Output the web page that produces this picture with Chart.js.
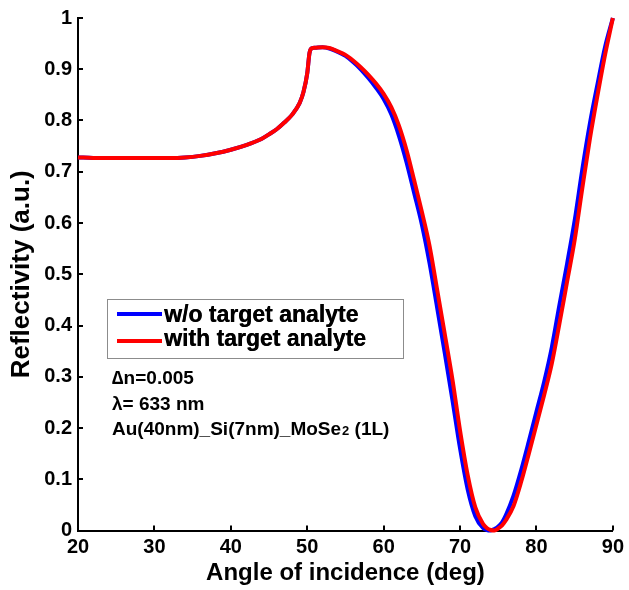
<!DOCTYPE html>
<html>
<head>
<meta charset="utf-8">
<script src="https://cdn.jsdelivr.net/npm/chart.js@4/dist/chart.umd.min.js"></script>
<style>
html,body{margin:0;padding:0;background:#fff;}
canvas{display:block;}
</style>
</head>
<body>
<canvas id="c" width="629" height="590"></canvas>
<script>
// ---- data ----
const angles = [20,22,24,26,28,30,32,34,36,38,40,42,44,45,46,47,48,49,49.5,50,50.3,50.6,51,52,53,54,55,56,57,58,59,60,61,62,63,64,65,66,67,68,69,70,71,72,73,73.5,74,74.5,75,75.5,76,77,78,79,80,81,82,83,84,85,86,87,88,89,90];
const reflWithout = [0.728,0.727,0.727,0.727,0.727,0.727,0.727,0.728,0.731,0.736,0.743,0.752,0.764,0.773,0.783,0.796,0.811,0.834,0.855,0.892,0.932,0.941,0.942,0.943,0.940,0.934,0.926,0.914,0.900,0.883,0.864,0.842,0.812,0.770,0.718,0.658,0.597,0.522,0.435,0.346,0.255,0.160,0.080,0.028,0.005,0.001,0.000,0.003,0.008,0.016,0.030,0.068,0.118,0.174,0.232,0.290,0.357,0.440,0.520,0.605,0.705,0.795,0.872,0.945,1.000];
const reflWith = [0.728,0.727,0.727,0.727,0.727,0.727,0.727,0.728,0.731,0.736,0.743,0.752,0.764,0.773,0.783,0.796,0.811,0.834,0.855,0.892,0.932,0.941,0.942,0.943,0.941,0.935,0.928,0.917,0.904,0.889,0.872,0.852,0.826,0.790,0.742,0.683,0.622,0.556,0.470,0.383,0.295,0.195,0.108,0.045,0.013,0.005,0.001,0.000,0.004,0.010,0.020,0.048,0.095,0.150,0.207,0.264,0.325,0.403,0.485,0.567,0.668,0.765,0.850,0.930,1.000];
const seriesLabels = ['w/o target analyte','with target analyte'];
const xTitle = 'Angle of incidence (deg)';
const yTitle = 'Reflectivity (a.u.)';
const noteLines = ['\u2206n=0.005','\u03bb= 633 nm'];
const noteFormula = ['Au(40nm)_Si(7nm)_MoSe','2',' (1L)'];

const FONT = '"Liberation Sans", Arial, sans-serif';

function pts(ys){ return angles.map((a,i)=>({x:a,y:ys[i]})); }

const inwardTicks = {
  id:'inwardTicks',
  afterDraw(chart){
    const ctx = chart.ctx, a = chart.chartArea;
    const xs = chart.scales.x, ys = chart.scales.y;
    ctx.save();
    ctx.strokeStyle = '#000'; ctx.lineWidth = 2;
    xs.ticks.forEach(t=>{
      const p = Math.round(xs.getPixelForValue(t.value));
      ctx.beginPath(); ctx.moveTo(p, a.bottom); ctx.lineTo(p, a.bottom-5); ctx.stroke();
    });
    ys.ticks.forEach(t=>{
      const p = Math.round(ys.getPixelForValue(t.value));
      ctx.beginPath(); ctx.moveTo(a.left, p); ctx.lineTo(a.left+5, p); ctx.stroke();
    });
    ctx.restore();
  }
};

const legendNotes = {
  id:'legendNotes',
  afterDraw(chart){
    const ctx = chart.ctx;
    ctx.save();
    ctx.fillStyle = '#fff';
    ctx.fillRect(107.5,299.5,296,59);
    ctx.strokeStyle = '#8c8c8c'; ctx.lineWidth = 1;
    ctx.strokeRect(107.5,299.5,296,59);
    const ds = chart.data.datasets;
    const rows = [{y:314, base:322},{y:341, base:346}];
    [0,1].forEach((di,r)=>{
      const d = ds[di];
      ctx.strokeStyle = d.borderColor; ctx.lineWidth = 4;
      ctx.beginPath(); ctx.moveTo(117, rows[r].y); ctx.lineTo(162, rows[r].y); ctx.stroke();
      ctx.fillStyle = '#000';
      ctx.font = '700 23px ' + FONT;
      ctx.textBaseline = 'alphabetic'; ctx.textAlign = 'left';
      ctx.fillText(d.label, 164, rows[r].base);
      ctx.fillText(d.label, 164.4, rows[r].base);
    });
    ctx.font = '700 19px ' + FONT;
    ctx.fillStyle = '#000';
    ctx.fillText(noteLines[0], 112, 384);
    ctx.fillText(noteLines[1], 112, 410);
    let x = 112;
    ctx.fillText(noteFormula[0], x, 435);
    x += ctx.measureText(noteFormula[0]).width;
    ctx.font = '700 13px ' + FONT;
    ctx.fillText(noteFormula[1], x+1, 435);
    x += ctx.measureText(noteFormula[1]).width + 1;
    ctx.font = '700 19px ' + FONT;
    ctx.fillText(noteFormula[2], x, 435);
    ctx.restore();
  }
};

new Chart(document.getElementById('c'), {
  type:'line',
  data:{
    datasets:[
      {label:seriesLabels[0], data:pts(reflWithout), borderColor:'#0000ff', backgroundColor:'#0000ff', borderWidth:4, pointRadius:0, cubicInterpolationMode:'monotone', order:1, clip:false},
      {label:seriesLabels[1], data:pts(reflWith), borderColor:'#ff0000', backgroundColor:'#ff0000', borderWidth:4, pointRadius:0, cubicInterpolationMode:'monotone', order:0, clip:false}
    ]
  },
  options:{
    responsive:false,
    animation:false,
    events:[],
    layout:{padding:{top:14,right:16,left:0,bottom:0}},
    plugins:{legend:{display:false}, tooltip:{enabled:false}},
    scales:{
      x:{
        type:'linear', min:20, max:90,
        ticks:{stepSize:10, color:'#000', padding:5, maxRotation:0, font:{family:FONT, size:20, weight:'bold'}},
        grid:{display:false, drawTicks:false},
        border:{display:true, color:'#000', width:2},
        title:{display:true, text:xTitle, color:'#000', padding:{top:0,bottom:2}, font:{family:FONT, size:24, weight:'bold'}},
        afterFit(s){ s.height = 59.5; }
      },
      y:{
        type:'linear', min:0, max:1,
        ticks:{stepSize:0.1, color:'#000', padding:6, font:{family:FONT, size:20, weight:'bold'},
          callback:(v)=>String(Math.round(v*10)/10)},
        grid:{display:false, drawTicks:false},
        border:{display:true, color:'#000', width:2},
        title:{display:true, text:yTitle, color:'#000', padding:{top:6,bottom:0}, font:{family:FONT, size:26, weight:'bold'}},
        afterFit(s){ s.width = 78; }
      }
    }
  },
  plugins:[inwardTicks, legendNotes]
});
</script>
</body>
</html>
